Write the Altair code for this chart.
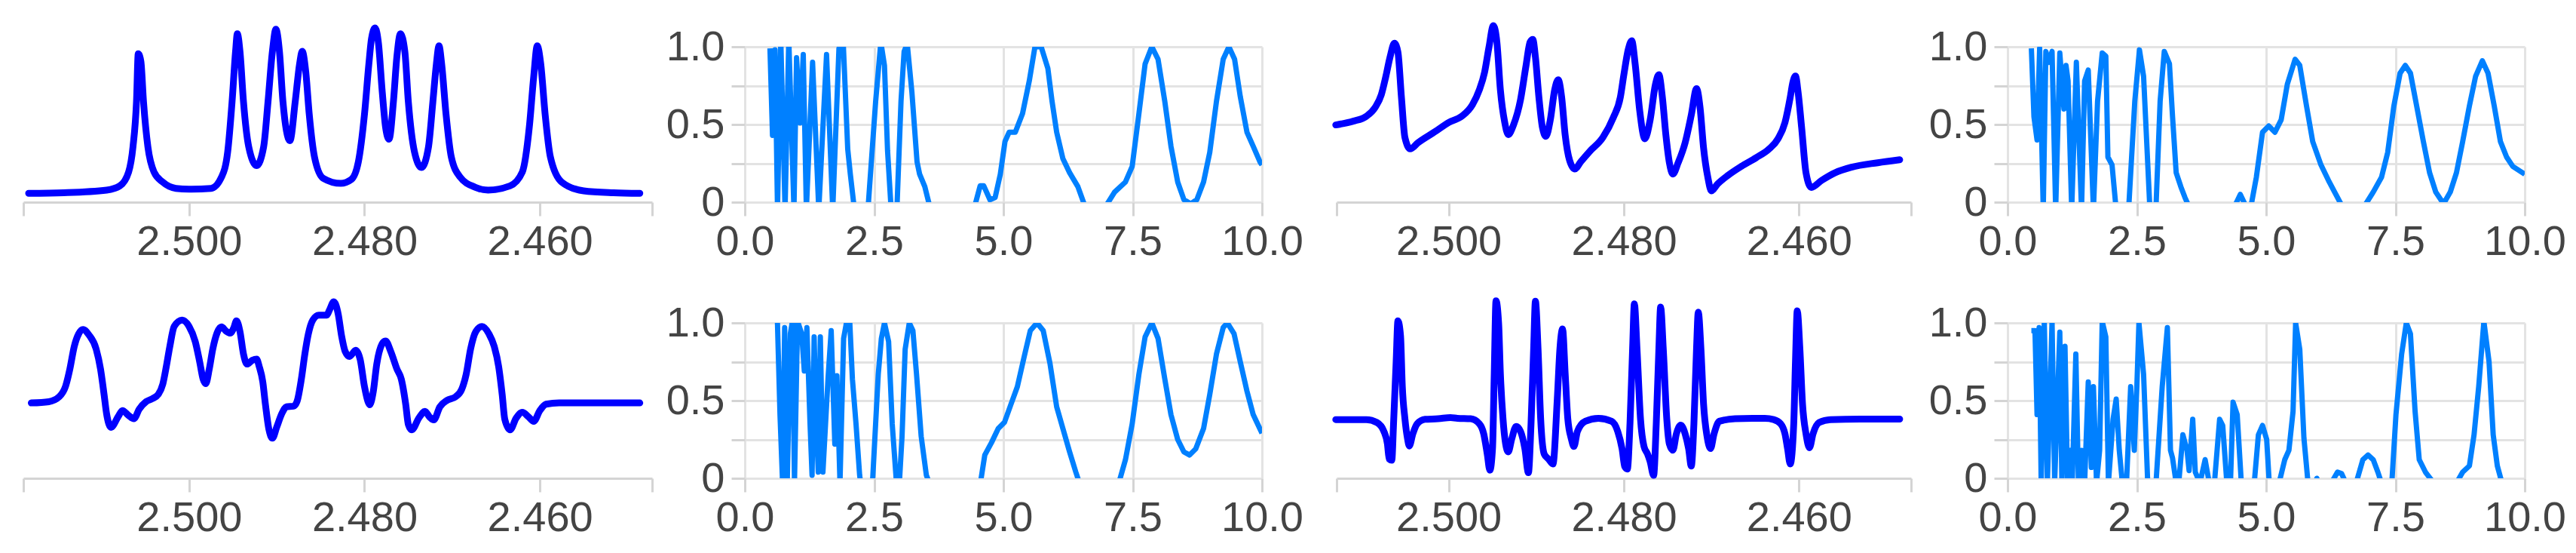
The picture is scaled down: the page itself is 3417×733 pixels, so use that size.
import altair as alt
import pandas as pd

# ---------------- NMR spectra (chemical shift in ppm, relative intensity) ----------------
spec_a_ppm = [2.5183, 2.5143, 2.5094, 2.5079, 2.5069, 2.5064, 2.5060, 2.5058, 2.5055, 2.5052,
              2.5047, 2.5040, 2.5030, 2.5015, 2.5000, 2.4975, 2.4963, 2.4956, 2.4951, 2.4947,
              2.4945, 2.4942, 2.4938, 2.4932, 2.4923, 2.4915, 2.4910, 2.4905, 2.4901, 2.4897,
              2.4893, 2.4885, 2.4879, 2.4874, 2.4871, 2.4867, 2.4863, 2.4857, 2.4847, 2.4827,
              2.4815, 2.4807, 2.4800, 2.4795, 2.4792, 2.4788, 2.4784, 2.4780, 2.4776, 2.4772,
              2.4767, 2.4763, 2.4759, 2.4754, 2.4750, 2.4743, 2.4735, 2.4727, 2.4722, 2.4718,
              2.4715, 2.4712, 2.4707, 2.4701, 2.4691, 2.4674, 2.4659, 2.4634, 2.4620, 2.4612,
              2.4607, 2.4603, 2.4599, 2.4594, 2.4588, 2.4575, 2.4550, 2.4516, 2.4486]
spec_a_int = [0.057, 0.061, 0.078, 0.105, 0.194, 0.356, 0.647, 0.955, 0.906, 0.647,
              0.356, 0.194, 0.129, 0.089, 0.084, 0.089, 0.162, 0.324, 0.647, 0.971,
              1.084, 0.971, 0.647, 0.356, 0.235, 0.356, 0.647, 0.971, 1.113, 0.971,
              0.647, 0.396, 0.647, 0.890, 0.971, 0.841, 0.566, 0.291, 0.154, 0.121,
              0.146, 0.259, 0.566, 0.890, 1.052, 1.121, 1.019, 0.728, 0.485, 0.405,
              0.647, 0.939, 1.084, 0.971, 0.647, 0.324, 0.223, 0.356, 0.647, 0.890,
              1.006, 0.890, 0.566, 0.291, 0.162, 0.097, 0.078, 0.105, 0.194, 0.485,
              0.809, 1.006, 0.890, 0.566, 0.291, 0.129, 0.073, 0.061, 0.057]

spec_b_ppm = [2.5129, 2.5109, 2.5094, 2.5084, 2.5077, 2.5072, 2.5067, 2.5062, 2.5058, 2.5054,
              2.5050, 2.5044, 2.5035, 2.5015, 2.5000, 2.4985, 2.4973, 2.4965, 2.4959, 2.4954,
              2.4949, 2.4945, 2.4941, 2.4936, 2.4932, 2.4926, 2.4918, 2.4912, 2.4907, 2.4904,
              2.4901, 2.4897, 2.4893, 2.4889, 2.4884, 2.4879, 2.4875, 2.4871, 2.4867, 2.4862,
              2.4856, 2.4849, 2.4839, 2.4824, 2.4812, 2.4804, 2.4800, 2.4795, 2.4791, 2.4787,
              2.4782, 2.4776, 2.4770, 2.4764, 2.4760, 2.4756, 2.4752, 2.4748, 2.4744, 2.4738,
              2.4730, 2.4723, 2.4717, 2.4713, 2.4709, 2.4704, 2.4700, 2.4693, 2.4681, 2.4666,
              2.4649, 2.4634, 2.4624, 2.4616, 2.4610, 2.4607, 2.4604, 2.4601, 2.4597, 2.4592,
              2.4586, 2.4574, 2.4559, 2.4540, 2.4510, 2.4485]
spec_b_int = [0.497, 0.521, 0.553, 0.610, 0.691, 0.804, 0.934, 1.023, 0.966, 0.675,
              0.416, 0.343, 0.383, 0.456, 0.513, 0.553, 0.626, 0.723, 0.837, 0.998,
              1.136, 1.031, 0.723, 0.513, 0.435, 0.497, 0.659, 0.869, 1.031, 1.047,
              0.934, 0.675, 0.481, 0.424, 0.529, 0.723, 0.788, 0.675, 0.432, 0.270,
              0.214, 0.262, 0.327, 0.416, 0.545, 0.675, 0.820, 0.982, 1.039, 0.885,
              0.594, 0.408, 0.529, 0.756, 0.820, 0.675, 0.432, 0.254, 0.181, 0.254,
              0.383, 0.561, 0.731, 0.610, 0.351, 0.157, 0.073, 0.117, 0.173, 0.230,
              0.286, 0.343, 0.408, 0.513, 0.675, 0.772, 0.812, 0.707, 0.481, 0.189,
              0.095, 0.141, 0.189, 0.225, 0.254, 0.273]

spec_c_ppm = [2.5180, 2.5160, 2.5148, 2.5141, 2.5136, 2.5131, 2.5126, 2.5121, 2.5114, 2.5106,
              2.5101, 2.5097, 2.5094, 2.5089, 2.5081, 2.5076, 2.5069, 2.5063, 2.5057, 2.5049,
              2.5042, 2.5035, 2.5030, 2.5026, 2.5022, 2.5017, 2.5008, 2.5000, 2.4993, 2.4988,
              2.4984, 2.4981, 2.4977, 2.4973, 2.4968, 2.4963, 2.4958, 2.4953, 2.4949, 2.4946,
              2.4942, 2.4938, 2.4934, 2.4928, 2.4923, 2.4920, 2.4916, 2.4913, 2.4909, 2.4905,
              2.4900, 2.4894, 2.4889, 2.4881, 2.4877, 2.4872, 2.4868, 2.4864, 2.4859, 2.4852,
              2.4843, 2.4840, 2.4835, 2.4830, 2.4826, 2.4822, 2.4817, 2.4810, 2.4805, 2.4800,
              2.4796, 2.4794, 2.4790, 2.4786, 2.4780, 2.4776, 2.4770, 2.4763, 2.4758, 2.4753,
              2.4750, 2.4746, 2.4738, 2.4731, 2.4726, 2.4721, 2.4714, 2.4706, 2.4696, 2.4689,
              2.4684, 2.4679, 2.4673, 2.4666, 2.4658, 2.4652, 2.4647, 2.4643, 2.4640, 2.4634,
              2.4627, 2.4620, 2.4613, 2.4607, 2.4600, 2.4593, 2.4578, 2.4528, 2.4486]
spec_c_int = [0.485, 0.493, 0.525, 0.590, 0.703, 0.848, 0.929, 0.958, 0.921, 0.832,
              0.703, 0.541, 0.412, 0.328, 0.396, 0.436, 0.404, 0.383, 0.444, 0.493,
              0.512, 0.541, 0.606, 0.719, 0.848, 0.977, 1.018, 0.977, 0.880, 0.751,
              0.638, 0.609, 0.703, 0.832, 0.937, 0.974, 0.948, 0.934, 0.969, 1.013,
              0.945, 0.800, 0.735, 0.759, 0.767, 0.719, 0.622, 0.477, 0.315, 0.258,
              0.331, 0.420, 0.460, 0.464, 0.493, 0.638, 0.800, 0.929, 1.018, 1.050,
              1.050, 1.082, 1.136, 1.058, 0.913, 0.816, 0.784, 0.824, 0.767, 0.590,
              0.493, 0.473, 0.557, 0.735, 0.864, 0.884, 0.816, 0.703, 0.638, 0.477,
              0.347, 0.312, 0.388, 0.431, 0.396, 0.376, 0.460, 0.501, 0.525, 0.574,
              0.670, 0.832, 0.945, 0.977, 0.929, 0.848, 0.719, 0.541, 0.380, 0.312,
              0.388, 0.425, 0.396, 0.367, 0.436, 0.477, 0.485, 0.485, 0.485]

spec_d_ppm = [2.5129, 2.5094, 2.5082, 2.5074, 2.5070, 2.5068, 2.5065, 2.5063, 2.5060, 2.5058,
              2.5055, 2.5053, 2.5050, 2.5047, 2.5045, 2.5041, 2.5036, 2.5027, 2.5012, 2.4998,
              2.4990, 2.4975, 2.4965, 2.4960, 2.4956, 2.4953, 2.4950, 2.4948, 2.4946, 2.4943,
              2.4941, 2.4938, 2.4935, 2.4932, 2.4928, 2.4923, 2.4918, 2.4913, 2.4909, 2.4906,
              2.4903, 2.4901, 2.4898, 2.4895, 2.4891, 2.4886, 2.4881, 2.4876, 2.4873, 2.4870,
              2.4867, 2.4864, 2.4860, 2.4857, 2.4853, 2.4844, 2.4829, 2.4814, 2.4807, 2.4802,
              2.4799, 2.4796, 2.4793, 2.4790, 2.4788, 2.4785, 2.4781, 2.4777, 2.4773, 2.4770,
              2.4766, 2.4763, 2.4760, 2.4758, 2.4755, 2.4751, 2.4748, 2.4744, 2.4740, 2.4735,
              2.4730, 2.4726, 2.4723, 2.4720, 2.4717, 2.4715, 2.4712, 2.4709, 2.4705, 2.4701,
              2.4697, 2.4691, 2.4673, 2.4653, 2.4639, 2.4629, 2.4621, 2.4616, 2.4613, 2.4610,
              2.4606, 2.4604, 2.4602, 2.4599, 2.4596, 2.4592, 2.4588, 2.4584, 2.4577, 2.4564,
              2.4530, 2.4485]
spec_d_int = [0.378, 0.378, 0.359, 0.302, 0.221, 0.124, 0.116, 0.351, 0.754, 1.013,
              0.916, 0.593, 0.383, 0.254, 0.208, 0.286, 0.351, 0.380, 0.383, 0.391,
              0.386, 0.383, 0.351, 0.286, 0.157, 0.052, 0.189, 0.674, 1.142, 0.997,
              0.674, 0.383, 0.221, 0.170, 0.254, 0.334, 0.302, 0.189, 0.036, 0.351,
              0.835, 1.139, 0.835, 0.383, 0.157, 0.124, 0.092, 0.512, 0.835, 0.961,
              0.674, 0.383, 0.254, 0.205, 0.302, 0.367, 0.386, 0.367, 0.302, 0.189,
              0.076, 0.060, 0.351, 0.835, 1.123, 0.835, 0.383, 0.205, 0.157, 0.108,
              0.019, 0.351, 0.835, 1.102, 0.835, 0.383, 0.221, 0.181, 0.286, 0.342,
              0.286, 0.189, 0.079, 0.351, 0.835, 1.069, 0.835, 0.480, 0.270, 0.192,
              0.286, 0.367, 0.383, 0.386, 0.386, 0.378, 0.351, 0.286, 0.189, 0.092,
              0.351, 0.754, 1.078, 0.835, 0.480, 0.286, 0.197, 0.286, 0.359, 0.378,
              0.381, 0.381]

# ---------------- right-hand traces (x from 0 to 10, value shown between 0 and 1) ----------------
trace_a_x = [0.486, 0.535, 0.584, 0.632, 0.695, 0.778, 0.85, 0.95, 1.0, 1.07,
             1.13, 1.19, 1.31, 1.43, 1.58, 1.70, 1.82, 1.90, 1.99, 2.04,
             2.12, 2.25, 2.38, 2.53, 2.63, 2.70, 2.76, 2.83, 2.94, 3.02,
             3.08, 3.14, 3.23, 3.33, 3.38, 3.48, 3.57, 4.0, 4.45, 4.55,
             4.62, 4.74, 4.84, 4.94, 5.03, 5.11, 5.23, 5.37, 5.50, 5.61,
             5.73, 5.86, 5.94, 6.03, 6.15, 6.28, 6.44, 6.57, 6.78, 6.99,
             7.15, 7.36, 7.49, 7.62, 7.74, 7.87, 7.99, 8.12, 8.24, 8.37,
             8.49, 8.62, 8.74, 8.87, 8.99, 9.12, 9.25, 9.36, 9.47, 9.58,
             9.71, 9.83, 9.96, 10.0]
trace_a_y = [0.99, 0.43, 0.98, -0.05, 1.05, -0.05, 1.05, -0.05, 0.93, 0.51,
             0.95, -0.05, 0.90, -0.05, 0.95, -0.05, 0.99, 1.05, 0.34, 0.18,
             -0.05, -0.3, -0.05, 0.65, 1.03, 0.88, 0.33, -0.05, -0.05, 0.65,
             0.97, 1.02, 0.71, 0.26, 0.18, 0.10, -0.02, -0.4, -0.02, 0.105,
             0.105, 0.016, 0.03, 0.18, 0.39, 0.45, 0.45, 0.57, 0.78, 1.0,
             1.0, 0.86, 0.65, 0.45, 0.28, 0.19, 0.10, -0.02, -0.2, -0.02,
             0.065, 0.13, 0.23, 0.57, 0.89, 1.0, 0.92, 0.65, 0.36, 0.13,
             0.016, -0.01, 0.016, 0.13, 0.32, 0.65, 0.92, 1.0, 0.92, 0.68,
             0.45, 0.36, 0.26, 0.24]

trace_b_x = [0.46, 0.51, 0.57, 0.62, 0.69, 0.74, 0.80, 0.86, 0.93, 1.01,
             1.09, 1.13, 1.17, 1.24, 1.33, 1.43, 1.49, 1.56, 1.66, 1.74,
             1.83, 1.90, 1.94, 2.02, 2.10, 2.22, 2.34, 2.46, 2.55, 2.63,
             2.75, 2.81, 2.87, 2.95, 3.03, 3.13, 3.19, 3.26, 3.35, 3.43,
             3.51, 3.95, 4.40, 4.50, 4.60, 4.71, 4.81, 4.93, 5.05, 5.17,
             5.29, 5.41, 5.56, 5.65, 5.78, 5.90, 6.06, 6.22, 6.46, 6.68,
             6.91, 7.07, 7.23, 7.35, 7.47, 7.59, 7.69, 7.79, 7.91, 8.04,
             8.16, 8.28, 8.43, 8.56, 8.68, 8.80, 8.93, 9.05, 9.18, 9.29,
             9.41, 9.53, 9.65, 9.77, 10.0]
trace_b_y = [0.99, 0.55, 0.40, 0.99, -0.05, 0.97, 0.90, 0.97, -0.05, 0.96,
             0.60, 0.88, 0.78, -0.05, 0.90, -0.05, 0.78, 0.85, -0.05, 0.65,
             0.96, 0.94, 0.29, 0.24, -0.05, -0.3, -0.05, 0.65, 0.98, 0.81,
             -0.03, -0.1, -0.03, 0.65, 0.97, 0.89, 0.55, 0.19, 0.10, 0.03,
             -0.03, -0.4, -0.02, 0.05, -0.02, -0.02, 0.16, 0.45, 0.49, 0.45,
             0.53, 0.76, 0.92, 0.88, 0.62, 0.39, 0.24, 0.13, -0.02, -0.2,
             -0.02, 0.065, 0.16, 0.32, 0.62, 0.83, 0.88, 0.83, 0.62, 0.39,
             0.19, 0.065, -0.01, 0.065, 0.19, 0.39, 0.62, 0.81, 0.91, 0.83,
             0.62, 0.39, 0.29, 0.23, 0.18]

trace_c_x = [0.63, 0.68, 0.73, 0.77, 0.82, 0.88, 0.92, 0.96, 1.02, 1.10,
             1.15, 1.20, 1.26, 1.30, 1.34, 1.38, 1.42, 1.46, 1.51, 1.61,
             1.67, 1.74, 1.78, 1.84, 1.91, 1.97, 2.03, 2.08, 2.15, 2.22,
             2.35, 2.47, 2.58, 2.64, 2.70, 2.78, 2.85, 2.93, 2.99, 3.04,
             3.10, 3.18, 3.25, 3.32, 3.41, 3.51, 4.0, 4.56, 4.64, 4.77,
             4.90, 5.02, 5.15, 5.27, 5.40, 5.52, 5.65, 5.77, 5.90, 6.03,
             6.15, 6.28, 6.40, 6.46, 6.85, 7.24, 7.36, 7.49, 7.62, 7.74,
             7.87, 7.99, 8.12, 8.24, 8.37, 8.49, 8.60, 8.72, 8.87, 8.99,
             9.12, 9.25, 9.33, 9.46, 9.58, 9.71, 9.83, 10.0]
trace_c_y = [1.01, 0.41, -0.03, 0.97, -0.03, 0.93, 1.01, -0.03, 1.01, 0.93,
             0.69, 0.97, 0.36, 0.02, 0.91, 0.38, 0.04, 0.91, 0.04, 0.65,
             0.95, 0.22, 0.66, -0.03, 0.90, 1.01, 1.00, 0.64, 0.35, 0.02,
             -0.3, -0.02, 0.67, 0.90, 1.00, 0.88, 0.35, -0.02, -0.02, 0.27,
             0.83, 1.00, 0.95, 0.67, 0.27, 0.02, -0.4, -0.02, 0.15, 0.23,
             0.32, 0.36, 0.48, 0.59, 0.78, 0.95, 1.00, 0.95, 0.74, 0.46,
             0.32, 0.17, 0.04, -0.02, -0.4, -0.02, 0.12, 0.35, 0.67, 0.91,
             1.00, 0.90, 0.64, 0.41, 0.25, 0.17, 0.15, 0.19, 0.32, 0.54,
             0.80, 0.97, 1.00, 0.93, 0.75, 0.56, 0.41, 0.29]

trace_d_x = [0.46, 0.53, 0.57, 0.61, 0.65, 0.71, 0.77, 0.86, 0.91, 1.01,
             1.05, 1.11, 1.16, 1.21, 1.25, 1.32, 1.37, 1.43, 1.49, 1.56,
             1.62, 1.66, 1.72, 1.78, 1.83, 1.90, 1.95, 2.04, 2.10, 2.16,
             2.22, 2.30, 2.38, 2.45, 2.50, 2.54, 2.63, 2.71, 2.79, 2.87,
             2.99, 3.09, 3.15, 3.19, 3.26, 3.31, 3.39, 3.47, 3.51, 3.58,
             3.63, 3.72, 3.82, 3.90, 4.00, 4.10, 4.16, 4.24, 4.31, 4.36,
             4.44, 4.52, 4.65, 4.77, 4.85, 4.93, 5.01, 5.06, 5.15, 5.25,
             5.36, 5.44, 5.52, 5.57, 5.65, 5.73, 5.81, 5.90, 5.98, 6.10,
             6.26, 6.38, 6.46, 6.54, 6.64, 6.74, 6.87, 6.97, 7.07, 7.16,
             7.23, 7.33, 7.43, 7.51, 7.62, 7.71, 7.79, 7.88, 7.96, 8.08,
             8.24, 8.45, 8.68, 8.80, 8.93, 9.02, 9.11, 9.21, 9.31, 9.39,
             9.47, 9.56, 9.80, 10.0]
trace_d_y = [0.95, 0.95, 0.41, 0.97, -0.03, 1.01, -0.03, 1.01, -0.03, 0.94,
             -0.03, 0.85, -0.03, 0.18, -0.03, 0.80, -0.03, 0.18, -0.03, 0.62,
             0.07, 0.59, -0.03, 0.18, 1.01, 0.91, -0.03, 0.38, 0.51, 0.18,
             -0.03, -0.03, 0.59, 0.18, 0.59, 1.00, 0.67, -0.03, -0.1, -0.03,
             0.59, 0.97, 0.18, 0.13, -0.03, -0.03, 0.28, 0.18, 0.05, 0.38,
             0.04, -0.03, 0.12, -0.03, -0.03, 0.38, 0.34, -0.03, -0.03, 0.49,
             0.41, -0.03, -0.1, -0.03, 0.28, 0.34, 0.25, -0.03, -0.1, -0.03,
             0.12, 0.18, 0.43, 1.00, 0.83, 0.26, -0.03, -0.1, 0.0, -0.1,
             -0.03, 0.04, 0.03, -0.03, -0.1, -0.03, 0.12, 0.15, 0.12, 0.04,
             -0.03, -0.1, -0.03, 0.41, 0.80, 1.00, 0.93, 0.43, 0.12, 0.04,
             -0.03, -0.1, -0.03, 0.04, 0.08, 0.28, 0.59, 1.01, 0.75, 0.28,
             0.08, -0.03, -0.2, -0.2]

# ---------------- axis settings ----------------
nmr_left_wide = 2.5189
nmr_left_narrow = 2.5128
nmr_right = 2.4472
nmr_ticks_inner = [2.50, 2.48, 2.46]
trace_x_ticks = [0, 2.5, 5, 7.5, 10]
trace_y_ticks = [0, 0.25, 0.5, 0.75, 1]

PLOT_H = 206
W_NMR_WIDE = 834
W_NMR_NARROW = 762
W_TRACE = 686
GAP_1, GAP_2, GAP_3 = 123, 99, 128

FONT = "Liberation Sans"
LABEL_COLOR = "#444444"
AXIS_GREY = "#d4d4d4"
GRID_GREY = "#e3e3e3"


def nmr_chart(ppm, inten, left, width):
    df = pd.DataFrame({"ppm": ppm, "intensity": inten})
    ticks = [left] + nmr_ticks_inner + [nmr_right]
    return alt.Chart(df).mark_line(
        color="#0000ff", strokeWidth=9, interpolate="monotone",
        strokeJoin="round", strokeCap="round",
    ).encode(
        x=alt.X("ppm:Q",
                scale=alt.Scale(domain=[nmr_right, left], reverse=True, nice=False, zero=False),
                axis=alt.Axis(title=None, values=ticks, grid=False, domain=True, labelOverlap=False,
                              labelFlush=False,
                              labelExpr="abs(datum.value*100 - round(datum.value*100)) < 0.01 ? format(datum.value, '.3f') : ''")),
        y=alt.Y("intensity:Q", scale=alt.Scale(domain=[0, 1], nice=False, zero=False), axis=None),
        order=alt.Order("ppm:Q", sort="descending"),
    ).properties(width=width, height=PLOT_H)


def trace_chart(xs, ys):
    df = pd.DataFrame({"x": xs, "y": ys})
    return alt.Chart(df).mark_line(
        color="#0080ff", strokeWidth=7, clip=True, strokeJoin="round",
    ).encode(
        x=alt.X("x:Q", scale=alt.Scale(domain=[0, 10], nice=False, zero=False),
                axis=alt.Axis(title=None, values=trace_x_ticks, format=".1f", grid=True,
                              domain=False, labelOverlap=False, labelFlush=False)),
        y=alt.Y("y:Q", scale=alt.Scale(domain=[0, 1], nice=False, zero=False),
                axis=alt.Axis(title=None, values=trace_y_ticks, grid=True, domain=False, labelOverlap=False,
                              labelFlush=False,
                              labelExpr="datum.value == 0 ? '0' : (datum.value == 0.5 || datum.value == 1) ? format(datum.value, '.1f') : ''")),
        order=alt.Order("x:Q"),
    ).properties(width=W_TRACE, height=PLOT_H)


def spacer(w):
    return alt.Chart(pd.DataFrame({"s": [0]})).mark_point(opacity=0).encode(
        x=alt.value(0), y=alt.value(0)
    ).properties(width=w, height=PLOT_H)


panels = [
    nmr_chart(spec_a_ppm, spec_a_int, nmr_left_wide, W_NMR_WIDE), spacer(GAP_1),
    trace_chart(trace_a_x, trace_a_y), spacer(GAP_2),
    nmr_chart(spec_b_ppm, spec_b_int, nmr_left_narrow, W_NMR_NARROW), spacer(GAP_3),
    trace_chart(trace_b_x, trace_b_y),
    nmr_chart(spec_c_ppm, spec_c_int, nmr_left_wide, W_NMR_WIDE), spacer(GAP_1),
    trace_chart(trace_c_x, trace_c_y), spacer(GAP_2),
    nmr_chart(spec_d_ppm, spec_d_int, nmr_left_narrow, W_NMR_NARROW), spacer(GAP_3),
    trace_chart(trace_d_x, trace_d_y),
]

chart = alt.concat(
    *panels, columns=7, spacing={"row": 160, "column": 0}, bounds="flush", align="each"
).properties(
    padding={"left": 21, "top": 21, "right": 5, "bottom": 5},
    background="white",
).configure_view(stroke=None).configure_axis(
    labelFont=FONT, labelFontSize=56, labelColor=LABEL_COLOR, labelFlush=False,
    tickSize=18, tickWidth=3, tickColor=AXIS_GREY,
    domainColor=AXIS_GREY, domainWidth=3,
    gridColor=GRID_GREY, gridWidth=3,
).configure_axisX(labelPadding=7).configure_axisY(labelPadding=9)

chart.save("out.html", embed_options={"renderer": "svg", "actions": False})
